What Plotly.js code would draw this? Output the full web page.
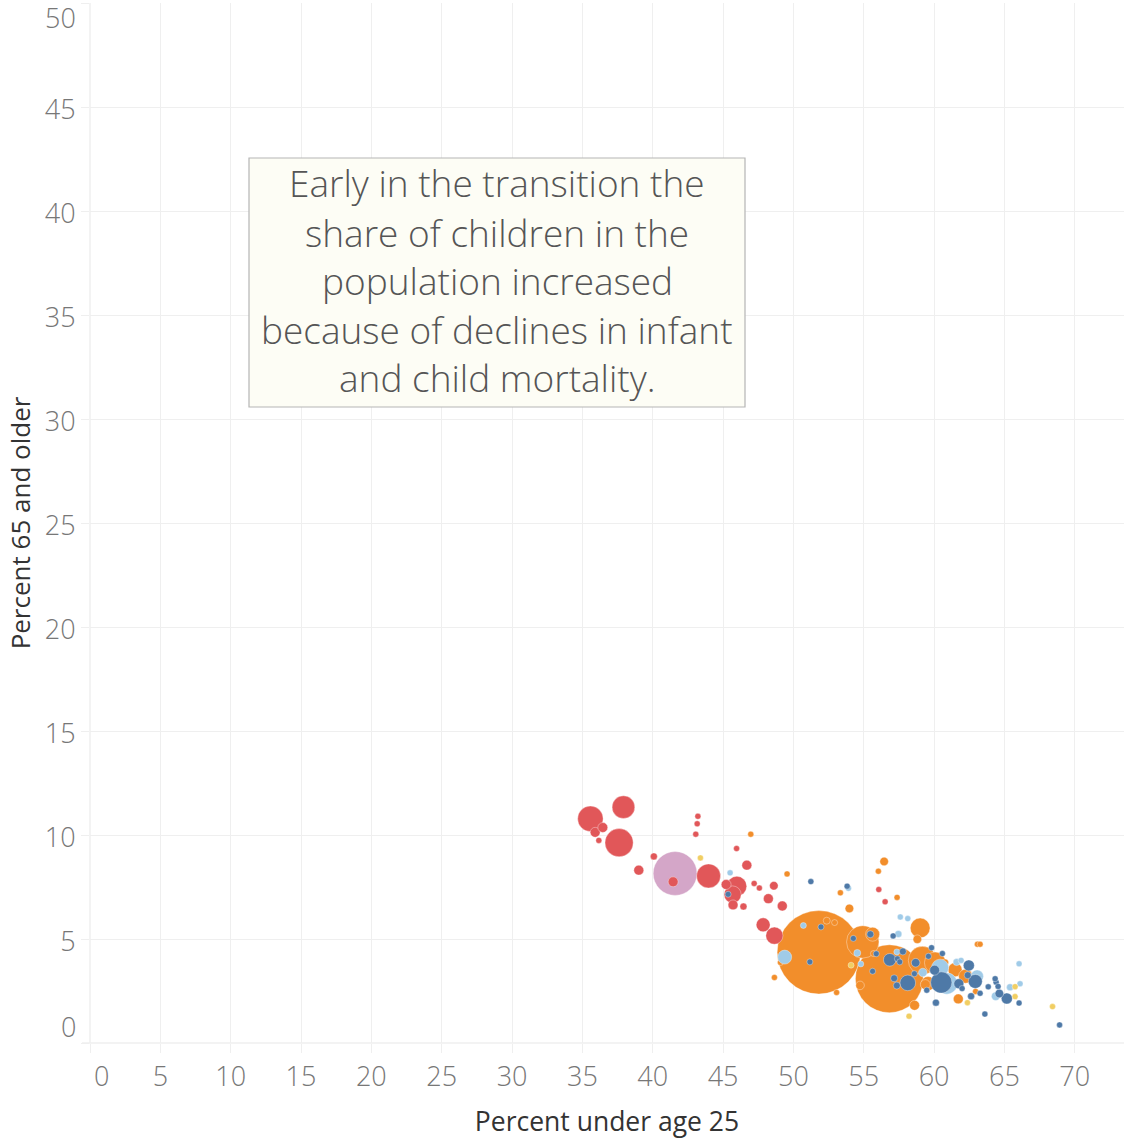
<!DOCTYPE html>
<html>
<head>
<meta charset="utf-8">
<script src="https://cdn.plot.ly/plotly-3.0.1.min.js"></script>
<style>
html,body{margin:0;padding:0;background:#fff;}
#chart{width:1124px;height:1139px;}
</style>
</head>
<body>
<div id="chart"></div>
<script>
// ---- Data ----
// Percent under age 25 (x), percent 65 and older (y), population in millions (bubble size)

// Europe (red)
const europeX = [35.57,37.92,35.91,36.45,36.17,37.61,43.21,43.16,43.06,40.08,39.01,41.45,43.97,45.96,46.69,45.98,45.22,45.68,45.71,46.45,47.21,47.58,48.61,48.22,49.21,47.85,48.65,56.07,56.52];
const europeY = [10.78,11.34,10.13,10.36,9.74,9.63,10.90,10.54,10.04,8.97,8.31,7.75,8.03,9.35,8.55,7.54,7.62,7.14,6.64,6.56,7.67,7.45,7.56,6.94,6.59,5.68,5.16,7.38,6.79];
const europePop = [53,42,8,8,1.5,65,2.6,1.5,2,4,8,8,47,2.6,8,32,8,24,8,4,2.6,1.5,6,8,8,16,24,1,1.5];

// Northern America (pink)
const northAmX = [41.59];
const northAmY = [8.15];
const northAmPop = [157];

// Asia (orange)
const asiaX = [51.81,56.82,54.93,55.63,59.01,58.81,56.45,56.04,46.97,49.55,53.34,57.37,53.98,52.37,52.93,49.08,48.65,53.07,54.74,55.69,58.61,59.17,60.07,59.57,60.78,61.49,62.24,61.72,63.08,63.27,62.95,59.38];
const asiaY = [4.36,3.09,4.86,5.23,5.53,4.99,8.73,8.26,10.04,8.13,7.22,7.00,6.47,5.88,5.79,3.87,3.15,2.43,2.77,4.30,1.81,3.97,3.86,2.86,3.87,3.52,3.21,2.12,4.75,4.75,2.48,2.81];
const asiaPop = [569,377,86,16,32,6,6,1.5,2.6,1.5,1.5,2.6,6,4,1.5,1.5,1.5,1.5,6,1,8,65,37,16,4,16,16,8,1.5,1.5,1.5,8];

// Latin America (light blue)
const latamX = [49.38,45.50,50.71,53.91,57.60,58.13,57.46,54.54,54.79,57.35,59.20,60.90,61.60,63.06,66.04,66.11,65.40,64.38,61.92,60.43];
const latamY = [4.13,8.18,5.65,7.44,6.06,5.98,5.24,4.33,3.80,4.38,3.39,2.86,3.89,3.21,3.81,2.85,2.68,2.25,3.97,3.62];
const latamPop = [16,2.6,1.5,1.5,2.6,1.5,4,4,1.5,1.5,6,37,4,13,1.5,1.5,4,6,1.5,24];

// Africa (dark blue)
const africaX = [51.24,45.36,53.82,51.96,51.17,55.47,54.26,57.09,55.89,57.78,56.85,57.39,55.63,57.16,58.13,57.35,58.69,58.60,59.60,59.82,60.04,60.51,59.48,60.13,60.59,62.47,62.93,61.76,62.39,61.99,63.27,62.63,63.61,63.85,64.34,64.41,64.55,64.64,65.17,66.04,68.92,57.56];
const africaY = [7.76,7.15,7.54,5.58,3.90,5.23,5.03,5.15,4.29,4.40,4.00,4.05,3.45,3.11,2.89,2.76,3.86,3.33,4.17,4.58,3.50,2.91,2.54,1.94,4.30,3.73,2.96,2.85,3.26,2.62,2.39,2.25,1.39,2.70,3.09,2.92,2.72,2.38,2.14,1.92,0.87,3.90];
const africaPop = [1.5,1.5,1.5,1.5,1.5,4,1.5,1.5,2.6,4,13,2.6,1.5,4,20,4,6,1.5,1.5,1.5,8,37,2.6,4,1.5,10,16,8,4,1.5,2.6,4,1.5,2.6,1.5,2.6,2.6,6,10,1.5,2.6,1.5];

// Oceania (yellow)
const oceaniaX = [43.39,54.10,58.22,62.37,65.76,65.76,68.42];
const oceaniaY = [8.90,3.74,1.29,1.94,2.71,2.23,1.75];
const oceaniaPop = [1,1,1,1,1,1,1];

// Axis ticks
const xTicks = [0,5,10,15,20,25,30,35,40,45,50,55,60,65,70];
const yTicks = [0,5,10,15,20,25,30,35,40,45,50];

const noteLines = ["Early in the transition the","share of children in the","population increased","because of declines in infant","and child mortality."];

// ---- Build traces ----
function makeTrace(name, xs, ys, pops, color){
  // draw larger bubbles first so small ones stay visible
  const idx = xs.map((_, i) => i).sort((a, b) => pops[b] - pops[a]);
  return {
    type: 'scatter', mode: 'markers', name: name,
    x: idx.map(i => xs[i]), y: idx.map(i => ys[i]),
    marker: {
      size: idx.map(i => pops[i]), sizemode: 'area', sizeref: 0.1635, sizemin: 3,
      color: color, opacity: 1,
      line: {color: 'rgba(255,255,255,0.6)', width: 0.6}
    },
    hovertemplate: name + '<br>Under 25: %{x}%<br>65+: %{y}%<extra></extra>'
  };
}

const traces = [
  makeTrace('Northern America', northAmX, northAmY, northAmPop, '#d4a6c8'),
  makeTrace('Asia', asiaX, asiaY, asiaPop, '#f28e2b'),
  makeTrace('Latin America', latamX, latamY, latamPop, '#a0cbe8'),
  makeTrace('Europe', europeX, europeY, europePop, '#e15759'),
  makeTrace('Africa', africaX, africaY, africaPop, '#4e79a7'),
  makeTrace('Oceania', oceaniaX, oceaniaY, oceaniaPop, '#f1ce63')
];

const tickFont = {family: '"Open Sans", sans-serif', size: 27, color: '#777777', weight: 300};
const gridC = '#efefef';

const annotations = [];
// note text, one line each
const lineCenters = [182.7, 232.7, 280.3, 329.3, 377.7];
noteLines.forEach((t, i) => {
  annotations.push({
    xref: 'paper', yref: 'paper', x: (497.3 - 90) / 1034, y: (1043 - lineCenters[i]) / 1040,
    xanchor: 'center', yanchor: 'middle', showarrow: false, text: t,
    font: {family: '"Open Sans", sans-serif', size: 37, color: '#555555', weight: 300}
  });
});
// edge tick labels (shifted inward like the original)
annotations.push({xref: 'paper', yref: 'paper', x: 0, xshift: -12, y: (1043 - 18) / 1040, xanchor: 'right', yanchor: 'middle', showarrow: false, text: String(yTicks[yTicks.length - 1]), font: tickFont});
annotations.push({xref: 'paper', yref: 'paper', x: 0, xshift: -12, y: (1043 - 1026) / 1040, xanchor: 'right', yanchor: 'middle', showarrow: false, text: String(yTicks[0]), font: tickFont});
annotations.push({xref: 'paper', yref: 'paper', x: (101 - 90) / 1034, y: (1043 - 1075) / 1040, xanchor: 'center', yanchor: 'middle', showarrow: false, text: String(xTicks[0]), font: tickFont});

const layout = {
  width: 1124, height: 1139,
  margin: {l: 90, r: 0, t: 3, b: 96, pad: 0},
  paper_bgcolor: '#ffffff', plot_bgcolor: '#ffffff',
  showlegend: false,
  xaxis: {
    range: [0, 73.5], tickvals: xTicks,
    ticktext: xTicks.map((v, i) => i === 0 ? '' : String(v)),
    showgrid: true, gridcolor: gridC, gridwidth: 1, zeroline: false, showline: false,
    ticks: 'outside', ticklen: 9, tickcolor: gridC, tickwidth: 1,
    tickfont: tickFont, ticklabelstandoff: 1,
    title: {text: 'Percent under age 25', font: {family: '"Open Sans", sans-serif', size: 26.5, color: '#333333'}, standoff: 20},
    fixedrange: true
  },
  yaxis: {
    range: [0, 50], tickvals: yTicks,
    ticktext: yTicks.map((v, i) => (i === 0 || i === yTicks.length - 1) ? '' : String(v)),
    showgrid: true, gridcolor: gridC, gridwidth: 1, zeroline: false, showline: false,
    ticks: 'outside', ticklen: 8, tickcolor: gridC, tickwidth: 1,
    tickfont: tickFont, ticklabelshift: 3,
    title: {text: 'Percent 65 and older', font: {family: '"Open Sans", sans-serif', size: 26, color: '#333333'}, standoff: 6},
    fixedrange: true
  },
  shapes: [
    {type: 'line', xref: 'paper', yref: 'paper', x0: -8 / 1034, x1: 1, y0: 0, y1: 0, line: {color: gridC, width: 1.5}, layer: 'below'},
    {type: 'line', xref: 'paper', yref: 'paper', x0: 0, x1: 0, y0: 0, y1: 1, line: {color: gridC, width: 1.5}, layer: 'below'},
    {
      type: 'rect', xref: 'paper', yref: 'paper',
      x0: (249 - 90) / 1034, x1: (745 - 90) / 1034,
      y0: (1043 - 407) / 1040, y1: (1043 - 158) / 1040,
      fillcolor: '#fdfdf5', line: {color: '#b5b5b5', width: 1.2}, layer: 'above'
    }
  ],
  annotations: annotations
};

Plotly.newPlot('chart', traces, layout, {displayModeBar: false, staticPlot: false});
</script>
</body>
</html>
